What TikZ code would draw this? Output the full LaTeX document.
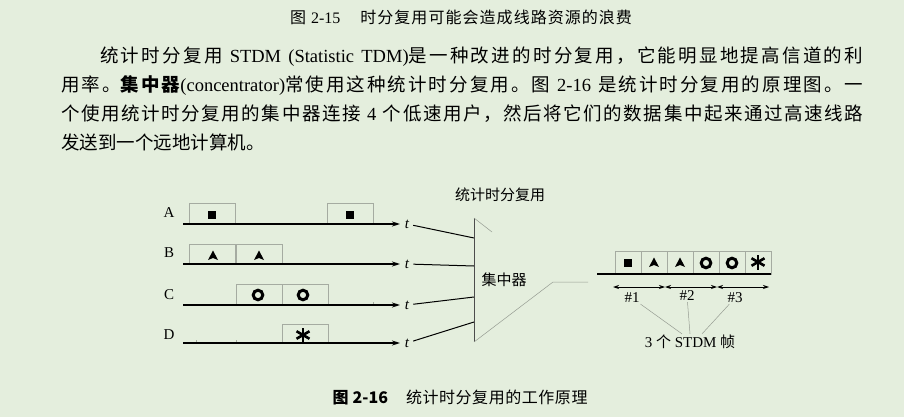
\documentclass[tikz,border=0pt]{standalone}
\usepackage{fontspec}
\setmainfont{Liberation Serif}
\newfontfamily\cjk{Noto Sans CJK SC}
\usetikzlibrary{arrows.meta}
\definecolor{paper}{RGB}{228,238,221}
\definecolor{slotgray}{RGB}{165,171,161}
\definecolor{fadegray}{RGB}{150,156,146}

% stretchable glue between Chinese characters
\newXeTeXintercharclass\hanclass
\XeTeXinterchartokenstate=1
\makeatletter
\count@="3000
\loop\XeTeXcharclass\count@=\hanclass\advance\count@ 1 \ifnum\count@<"3040 \repeat
\count@="4E00
\loop\XeTeXcharclass\count@=\hanclass\advance\count@ 1 \ifnum\count@<"A000 \repeat
\count@="FF00
\loop\XeTeXcharclass\count@=\hanclass\advance\count@ 1 \ifnum\count@<"FFF0 \repeat
\makeatother
\XeTeXinterchartoks\hanclass\hanclass={\hskip0pt plus 2pt\relax}
\newcommand\zh[1]{{\cjk#1}}

\begin{document}
\begin{tikzpicture}[x=1pt,y=-1pt,
		body/.style={font=\fontsize{18.5}{22}\selectfont,inner sep=0pt,anchor=west},
		caption/.style={font=\fontsize{16}{16}\selectfont,inner sep=0pt},
		user/.style={font=\fontsize{15}{15}\selectfont,inner sep=1pt},
		tlabel/.style={font=\fontsize{15}{15}\selectfont\itshape,inner sep=1pt},
		small/.style={font=\fontsize{15}{15}\selectfont,inner sep=1pt},
		axis/.style={line width=1.6pt,-{Stealth[length=8pt,width=5pt]}},
		slot/.style={draw=slotgray,line width=0.6pt},
		feed/.style={line width=1pt,shorten <=3pt},
		faint/.style={draw=fadegray,line width=0.5pt},
		frame/.style={line width=0.8pt,{Stealth[length=6pt,width=4pt]}-{Stealth[length=6pt,width=4pt]}},
		sqmark/.pic={\fill (-3.6,-3.6) rectangle (3.6,3.6);},
		trimark/.pic={\fill (0,-5.5) -- (5,4) -- (0,2) -- (-5,4) -- cycle;},
		ringmark/.pic={\draw[line width=3pt] (0,0) circle (4.8);},
		starmark/.pic={\foreach \a in {90,30,150} \draw[line width=2.6pt] (\a:7.5) -- (\a+180:7.5);}
	]
	\fill[paper] (0,0) rectangle (904,417);
	\useasboundingbox (0,0) rectangle (904,417);

	\node[caption] (cap1) at (461,17) {\makebox[342pt][s]{\zh{图} 2-15\hskip 20pt\zh{时分复用可能会造成线路资源的浪费}}};
	\node[body] (par1) at (100,57) {\makebox[763pt][s]{\zh{统计时分复用} STDM (Statistic TDM)\zh{是一种改进的时分复用，它能明显地提高信道的利}}};
	\node[body] (par2) at (61,86) {\makebox[802pt][s]{\zh{用率。}{\cjk\bfseries 集中器}(concentrator)\zh{常使用这种统计时分复用。图} 2-16 \zh{是统计时分复用的原理图。一}}};
	\node[body] (par3) at (61,114) {\makebox[802pt][s]{\zh{个使用统计时分复用的集中器连接} 4 \zh{个低速用户，然后将它们的数据集中起来通过高速线路}}};
	\node[body] (par4) at (61,142) {\zh{发送到一个远地计算机。}};

	% slots of the four slow users
	\foreach \x/\yt/\yb in {189/203/224,327/203/224,189/244/264,236/244/264,236/284/305,282/284/305,282/324/343}
		\draw[slot] (\x,\yt) rectangle (\x+46,\yb);
	\foreach \x/\y in {196/343,236/343,373/305}
		\draw[slot] (\x,\y) -- (\x,\y-3.5);
	\foreach \u/\y/\ly/\fy in {A/224/213/238,B/264/253/266,C/305/295/297,D/343/335/322}{
		\node[user] (\u) at (169,\ly) {\u};
		\coordinate (\u0) at (183,\y);
		\coordinate (\u1) at (400,\y);
		\coordinate (f\u) at (474,\fy);
		\draw[axis] (\u0) -- (\u1);
		\node[tlabel] (t\u) at (407,\y) {t};
		\draw[feed] (t\u) -- (f\u);
	}
	\foreach \x/\y in {212/215,350/215,628/263} \pic at (\x,\y) {sqmark};
	\foreach \x/\y in {213/256,259/256,654/263,680/263} \pic at (\x,\y) {trimark};
	\foreach \x/\y in {258/295,303/295,706/263,732/263} \pic at (\x,\y) {ringmark};
	\foreach \x/\y in {303/335,758/262} \pic at (\x,\y) {starmark};

	% concentrator
	\coordinate (fTop) at (474,218);
	\coordinate (fBot) at (474,342);
	\coordinate (fCut) at (492,232);
	\coordinate (fTip) at (553,282);
	\coordinate (fOut) at (588,282);
	\draw[line width=0.6pt,draw=black!70] (fTop) -- (fBot);
	\draw[faint] (fTop) -- (fCut);
	\draw[faint] (fBot) -- (fTip) -- (fOut);
	\node[font=\fontsize{15}{15}\selectfont\cjk,inner sep=1pt] (stdm) at (500,195) {统计时分复用};
	\node[font=\fontsize{15}{15}\selectfont\cjk,inner sep=1pt] (conc) at (504,280) {集中器};

	% STDM frames on the fast line
	\foreach \i in {0,...,5}
		\draw[slot] (615+26*\i,251) rectangle (641+26*\i,274);
	\coordinate (out0) at (597,274);
	\coordinate (out1) at (771,274);
	\draw[line width=1.8pt] (out0) -- (out1);
	\foreach \i in {0,...,3}
		\coordinate (g\i) at (613+52*\i,287);
	\draw[frame] (g0) -- (g1);
	\draw[frame] (g1) -- (g2);
	\draw[frame] (g2) -- (g3);
	\node[small] (n1) at (632,298) {\#1};
	\node[small] (n2) at (687,296) {\#2};
	\node[small] (n3) at (735,298) {\#3};
	\node[font=\fontsize{15}{15}\selectfont,inner sep=1pt] (frames) at (690,342) {3 \zh{个} STDM \zh{帧}};
	\draw[faint] (n1) -- ([xshift=-8pt]frames.north);
	\draw[faint] (n2) -- (frames.north);
	\draw[faint] (n3) -- ([xshift=12pt]frames.north);

	\node[caption] (cap2) at (460,398) {\makebox[255pt][s]{{\cjk\bfseries 图 2-16}\hskip 18pt\zh{统计时分复用的工作原理}}};
\end{tikzpicture}
\end{document}
